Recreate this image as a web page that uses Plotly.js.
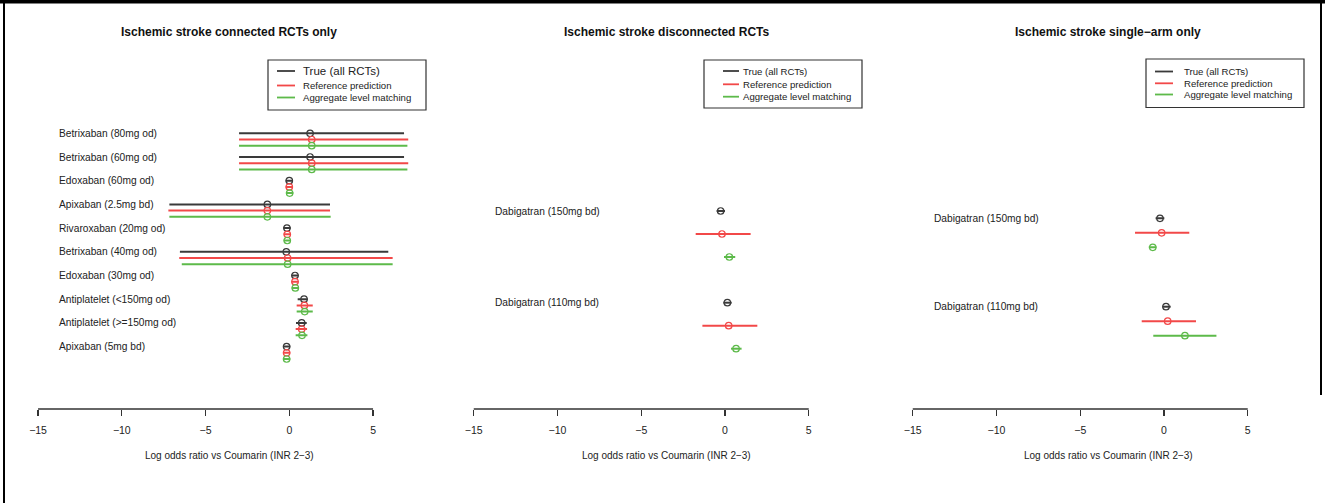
<!DOCTYPE html>
<html>
<head>
<meta charset="utf-8">
<script src="https://cdn.plot.ly/plotly-3.0.1.min.js"></script>
<style>html,body{margin:0;padding:0;background:#fff;}#chart{width:1325px;height:503px;}</style>
</head>
<body>
<div id="chart"></div>
<script>
// ---------------- DATA ----------------
const panelTitles = ["Ischemic stroke connected RCTs only", "Ischemic stroke disconnected RCTs", "Ischemic stroke single\u2212arm only"];
const seriesNames = ["True (all RCTs)", "Reference prediction", "Aggregate level matching"];
const axisTitle = "Log odds ratio vs Coumarin (INR 2\u22123)";
const tickValues = [-15, -10, -5, 0, 5];

// Panel 1: connected RCTs
const p1Labels = ["Betrixaban (80mg od)", "Betrixaban (60mg od)", "Edoxaban (60mg od)", "Apixaban (2.5mg bd)", "Rivaroxaban (20mg od)", "Betrixaban (40mg od)", "Edoxaban (30mg od)", "Antiplatelet (<150mg od)", "Antiplatelet (>=150mg od)", "Apixaban (5mg bd)"];
const p1TrueMean = [1.24, 1.24, 0.00, -1.31, -0.14, -0.18, 0.34, 0.88, 0.74, -0.16];
const p1TrueLo   = [-3.00, -3.00, -0.22, -7.16, -0.36, -6.53, 0.12, 0.50, 0.40, -0.38];
const p1TrueHi   = [6.85, 6.85, 0.22, 2.43, 0.08, 5.91, 0.56, 1.10, 1.04, 0.06];
const p1RefMean  = [1.34, 1.34, 0.00, -1.31, -0.12, -0.10, 0.34, 0.90, 0.74, -0.16];
const p1RefLo    = [-3.00, -3.00, -0.22, -7.22, -0.34, -6.57, 0.12, 0.44, 0.38, -0.38];
const p1RefHi    = [7.10, 7.10, 0.22, 2.43, 0.10, 6.17, 0.56, 1.40, 1.06, 0.06];
const p1AggMean  = [1.34, 1.34, 0.02, -1.31, -0.12, -0.10, 0.36, 0.92, 0.76, -0.16];
const p1AggLo    = [-3.00, -3.00, -0.20, -7.16, -0.34, -6.42, 0.14, 0.44, 0.38, -0.38];
const p1AggHi    = [7.05, 7.05, 0.24, 2.47, 0.10, 6.17, 0.58, 1.40, 1.08, 0.06];

// Panel 2: disconnected RCTs
const p2Labels = ["Dabigatran (150mg bd)", "Dabigatran (110mg bd)"];
const p2TrueMean = [-0.26, 0.14];
const p2TrueLo   = [-0.50, -0.10];
const p2TrueHi   = [0.00, 0.40];
const p2RefMean  = [-0.18, 0.22];
const p2RefLo    = [-1.75, -1.35];
const p2RefHi    = [1.53, 1.93];
const p2AggMean  = [0.26, 0.66];
const p2AggLo    = [-0.06, 0.36];
const p2AggHi    = [0.61, 0.99];

// Panel 3: single-arm only
const p3Labels = ["Dabigatran (150mg bd)", "Dabigatran (110mg bd)"];
const p3TrueMean = [-0.24, 0.12];
const p3TrueLo   = [-0.50, -0.10];
const p3TrueHi   = [0.02, 0.40];
const p3RefMean  = [-0.14, 0.22];
const p3RefLo    = [-1.73, -1.33];
const p3RefHi    = [1.51, 1.91];
const p3AggMean  = [-0.67, 1.25];
const p3AggLo    = [-0.91, -0.64];
const p3AggHi    = [-0.45, 3.13];

// ---------------- LAYOUT / STYLE ----------------
const W = 1325, H = 503;
const FONT = "Liberation Sans, Arial, sans-serif";
const colors = ["#3a3a3a", "#f24848", "#5dba4a"];
const pxX = x => x / W;
const pxY = y => 1 - y / H;
const SCALE = 16.75;            // pixels per unit on x
const XMIN = -16, XMAX = 8.2;
const PLOT_TOP = 60, AXIS_Y = 409;

const panels = [
  {labels: p1Labels, series: [[p1TrueMean, p1TrueLo, p1TrueHi], [p1RefMean, p1RefLo, p1RefHi], [p1AggMean, p1AggLo, p1AggHi]],
   zero: 289.3, center: 229, firstY: 133.3, groupGap: 23.7, subGap: 6.2,
   legend: {x0: 268, x1: 426, y0: 60, y1: 110, lx0: 277, lx1: 295, tx: 301, ys: [71, 85.5, 97.5], bigFirst: true}},
  {labels: p2Labels, series: [[p2TrueMean, p2TrueLo, p2TrueHi], [p2RefMean, p2RefLo, p2RefHi], [p2AggMean, p2AggLo, p2AggHi]],
   zero: 725, center: 667, firstY: 211, groupGap: 91.7, subGap: 23,
   legend: {x0: 704, x1: 862, y0: 60, y1: 108, lx0: 723, lx1: 739, tx: 741, ys: [71, 84.3, 96.7], bigFirst: false}},
  {labels: p3Labels, series: [[p3TrueMean, p3TrueLo, p3TrueHi], [p3RefMean, p3RefLo, p3RefHi], [p3AggMean, p3AggLo, p3AggHi]],
   zero: 1164, center: 1108, firstY: 218.3, groupGap: 88.4, subGap: 14.5,
   legend: {x0: 1146, x1: 1304, y0: 59, y1: 107.5, lx0: 1155, lx1: 1173, tx: 1182, ys: [71.5, 83.3, 94.5], bigFirst: false}}
];

const traces = [];
const annotations = [];
const shapes = [];
const layout = {
  width: W, height: H,
  margin: {l: 0, r: 0, t: 0, b: 0},
  paper_bgcolor: "#ffffff", plot_bgcolor: "#ffffff",
  showlegend: false,
  font: {family: FONT, color: "#222222", size: 10}
};

panels.forEach((p, pi) => {
  const n = pi + 1;
  const xa = "x" + (n === 1 ? "" : n), ya = "y" + (n === 1 ? "" : n);
  const sub = p.subGap / p.groupGap;
  const yTop = (PLOT_TOP - p.firstY) / p.groupGap;
  const yBot = (AXIS_Y - p.firstY) / p.groupGap;
  layout["xaxis" + (n === 1 ? "" : n)] = {
    anchor: ya,
    domain: [pxX(p.zero + XMIN * SCALE), pxX(p.zero + XMAX * SCALE)],
    range: [XMIN, XMAX],
    tickmode: "array", tickvals: tickValues,
    ticks: "outside", ticklen: 6, tickwidth: 1.3, tickcolor: "#333333",
    showline: false, zeroline: false, showgrid: false,
    tickfont: {family: FONT, size: 10.5, color: "#222222"},
    ticklabelstandoff: 5,
    fixedrange: true
  };
  layout["yaxis" + (n === 1 ? "" : n)] = {
    anchor: xa,
    domain: [pxY(AXIS_Y), pxY(PLOT_TOP)],
    range: [yBot, yTop],
    visible: false, showgrid: false, zeroline: false, fixedrange: true
  };
  // axis line from -15 to 5
  shapes.push({type: "line", xref: xa, yref: ya + " domain", x0: tickValues[0], x1: tickValues[tickValues.length - 1], y0: 0, y1: 0,
               line: {color: "#333333", width: 1.3}});
  // series
  p.series.forEach((s, si) => {
    const [mean, lo, hi] = s;
    const ys = mean.map((_, i) => i + si * sub);
    traces.push({
      type: "scatter", mode: "markers", xaxis: xa, yaxis: ya,
      x: mean, y: ys, name: seriesNames[si],
      marker: {symbol: "circle-open", size: 6.5, color: colors[si], line: {width: 1.2, color: colors[si]}},
      error_x: {type: "data", symmetric: false,
                array: hi.map((h, i) => h - mean[i]),
                arrayminus: lo.map((l, i) => mean[i] - l),
                color: colors[si], thickness: 2, width: 0},
      hoverinfo: "x+name"
    });
  });
  // row labels
  p.labels.forEach((lab, i) => {
    annotations.push({xref: xa, yref: ya, x: -13.85, y: i, text: lab, showarrow: false,
                      xanchor: "left", yanchor: "middle", font: {family: FONT, size: 10.2, color: "#222222"}});
  });
  // panel title
  annotations.push({xref: "paper", yref: "paper", x: pxX(p.center), y: pxY(32), text: "<b>" + panelTitles[pi] + "</b>",
                    showarrow: false, xanchor: "center", yanchor: "middle", font: {family: FONT, size: 12, color: "#111111"}});
  // axis title
  annotations.push({xref: "paper", yref: "paper", x: pxX(p.center), y: pxY(455), text: axisTitle,
                    showarrow: false, xanchor: "center", yanchor: "middle", font: {family: FONT, size: 10, color: "#222222"}});
  // legend box
  const L = p.legend;
  shapes.push({type: "rect", xref: "paper", yref: "paper", x0: pxX(L.x0), x1: pxX(L.x1), y0: pxY(L.y1), y1: pxY(L.y0),
               line: {color: "#333333", width: 1.2}, fillcolor: "rgba(0,0,0,0)"});
  seriesNames.forEach((nm, si) => {
    shapes.push({type: "line", xref: "paper", yref: "paper", x0: pxX(L.lx0), x1: pxX(L.lx1), y0: pxY(L.ys[si]), y1: pxY(L.ys[si]),
                 line: {color: colors[si], width: 1.8}});
    annotations.push({xref: "paper", yref: "paper", x: pxX(L.tx), y: pxY(L.ys[si]), text: nm, showarrow: false,
                      xanchor: "left", yanchor: "middle",
                      font: {family: FONT, size: (L.bigFirst && si === 0) ? 11.5 : 9.6, color: "#222222"}});
  });
});

// outer frame (partial, as in the figure)
shapes.push({type: "line", xref: "paper", yref: "paper", x0: 0, x1: 1, y0: pxY(1.5), y1: pxY(1.5), line: {color: "#000000", width: 4}});
shapes.push({type: "line", xref: "paper", yref: "paper", x0: pxX(4), x1: pxX(4), y0: 0, y1: 1, line: {color: "#000000", width: 2}});
shapes.push({type: "line", xref: "paper", yref: "paper", x0: pxX(1321), x1: pxX(1321), y0: pxY(395), y1: 1, line: {color: "#000000", width: 2}});

layout.annotations = annotations;
layout.shapes = shapes;

Plotly.newPlot("chart", traces, layout, {displayModeBar: false, staticPlot: true});
</script>
</body>
</html>
